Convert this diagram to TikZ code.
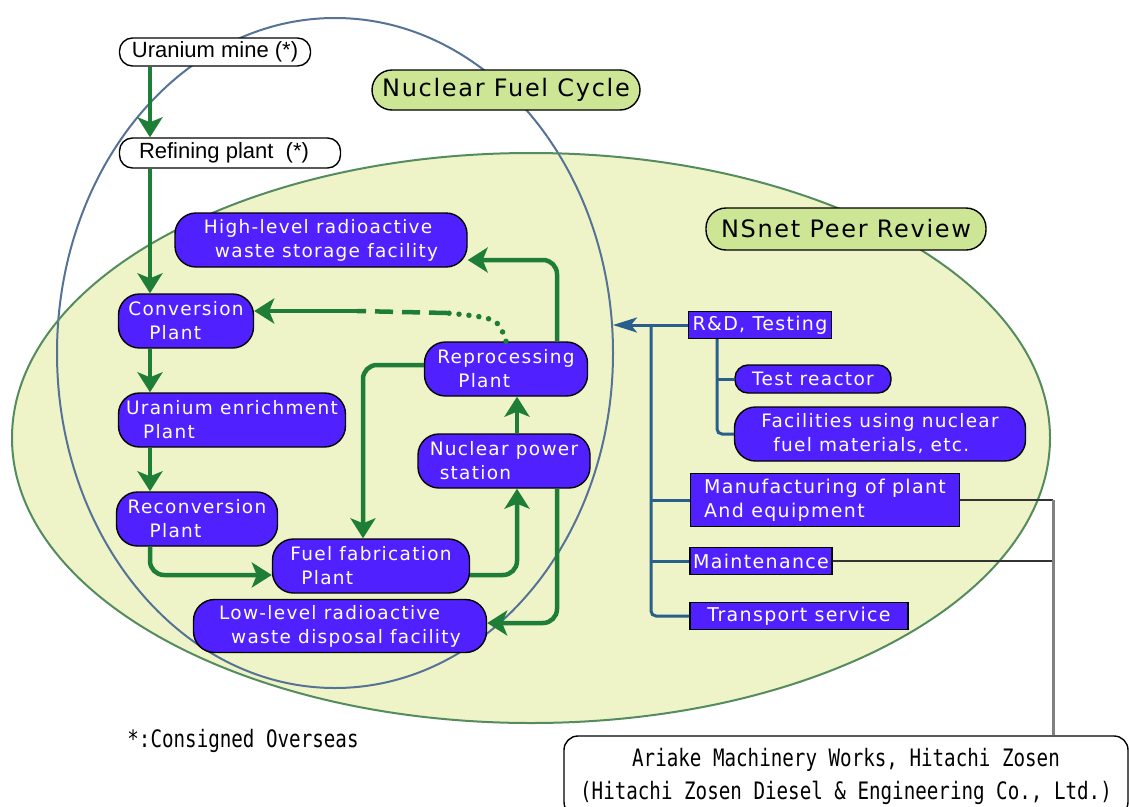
\documentclass[tikz,border=0pt]{standalone}
\usepackage{fontspec}
\setmainfont{DejaVu Sans}
\newfontfamily\plantfont{DejaVu Sans}[LetterSpace=7]
\newfontfamily\minefont{Liberation Sans}
\newfontfamily\notefont{DejaVu Sans Mono}[FakeStretch=0.8]
\usepackage{xcolor}
\usetikzlibrary{arrows.meta,positioning,calc}

\definecolor{plantblue}{RGB}{80,32,255}
\definecolor{flowgreen}{RGB}{30,125,55}
\definecolor{labelgreen}{RGB}{204,230,150}
\definecolor{peerfill}{RGB}{239,244,200}
\definecolor{peeredge}{RGB}{85,140,95}
\definecolor{cycleedge}{RGB}{85,115,150}
\definecolor{linkblue}{RGB}{40,95,140}

\begin{document}
\begin{tikzpicture}[x=1pt,y=-1pt,
    plant/.style={draw=black, line width=1.4pt, fill=plantblue, text=white, rounded corners=21pt,
        align=left, inner sep=0pt, font=\plantfont\fontsize{18.5}{24}\selectfont},
    service/.style={draw=black, line width=1.2pt, fill=plantblue, text=white, align=left,
        inner sep=0pt, font=\plantfont\fontsize{19}{24}\selectfont},
    source/.style={draw=black, line width=1.4pt, fill=white, rounded corners=13pt, inner sep=0pt,
        font=\minefont\fontsize{22}{26}\selectfont},
    title/.style={draw=black, line width=1.4pt, fill=labelgreen, rounded corners=20pt, inner sep=0pt,
        font=\plantfont\fontsize{24}{28}\selectfont},
    note/.style={font=\notefont\fontsize{24}{33}\selectfont, align=center, inner sep=0pt},
    flow/.style={draw=flowgreen, line width=4.5pt, rounded corners=14pt,
        -{Stealth[length=20pt,width=25pt,inset=5pt]}},
    dashflow/.style={draw=flowgreen, line width=4.5pt, dash pattern=on 18pt off 9pt},
    dotflow/.style={draw=flowgreen, line width=5.5pt, line cap=round, dash pattern=on 0pt off 10pt},
    link/.style={draw=linkblue, line width=3pt},
    feed/.style={draw=black!80, line width=1.5pt}
]
    \useasboundingbox (0,0) rectangle (1129,806);
    \fill[white] (0,0) rectangle (1129,806);

    % Areas
    \fill[peerfill] (531,438) ellipse [x radius=519, y radius=285];
    \draw[cycleedge, line width=2pt] (335,353) ellipse [x radius=278, y radius=335];
    \draw[peeredge, line width=2pt] (531,438) ellipse [x radius=519, y radius=285];

    % Titles
    \node[title, minimum width=268pt, minimum height=40pt] (nfc) at (506,90) {Nuclear Fuel Cycle};
    \node[title, minimum width=280pt, minimum height=42pt] (peer) at (846,229) {NSnet Peer Review};

    % Fuel cycle
    \node[source, minimum width=191pt, minimum height=28pt] (mine) at (215,52) {Uranium mine (*)};
    \node[source, minimum width=221pt, minimum height=30pt] (refine) at (230,153) {Refining plant \ (*)\hspace*{12pt}};
    \node[plant, minimum width=292pt, minimum height=54pt] (highlvl) at (321,240)
        {High-level radioactive\\\hspace*{11pt}waste storage facility};
    \node[plant, minimum width=135pt, minimum height=54pt] (conv) at (186,321)
        {Conversion\\\hspace*{21pt}Plant};
    \node[plant, minimum width=227pt, minimum height=54pt] (enrich) at (232,420)
        {Uranium enrichment\\\hspace*{17pt}Plant};
    \node[plant, minimum width=161pt, minimum height=54pt] (reconv) at (197,519)
        {Reconversion\\\hspace*{22pt}Plant};
    \node[plant, minimum width=197pt, minimum height=54pt] (fab) at (371,566)
        {Fuel fabrication\\\hspace*{11pt}Plant};
    \node[plant, minimum width=293pt, minimum height=53pt] (lowlvl) at (340,626)
        {Low-level radioactive\\\hspace*{12pt}waste disposal facility};
    \node[plant, minimum width=163pt, minimum height=54pt] (reproc) at (506,369)
        {Reprocessing\\\hspace*{21pt}Plant};
    \node[plant, minimum width=172pt, minimum height=54pt] (power) at (504,461)
        {Nuclear power\\\hspace*{10pt}station};

    % Peer review fields
    \node[service, minimum width=143pt, minimum height=27pt] (rnd) at (760,325) {R\&D, Testing};
    \node[plant, rounded corners=13pt, minimum width=156pt, minimum height=28pt] (testr) at (813,379) {Test reactor};
    \node[plant, minimum width=291pt, minimum height=54pt] (facil) at (880,434)
        {Facilities using nuclear\\\hspace*{12pt}fuel materials, etc.};
    \node[service, minimum width=269pt, minimum height=53pt] (manuf) at (825,500)
        {Manufacturing of plant\\And equipment\hspace*{80pt}};
    \node[service, minimum width=142pt, minimum height=27pt] (maint) at (761,561) {Maintenance};
    \node[service, minimum width=218pt, minimum height=27pt] (transp) at (799,616) {Transport service};

    % Notes
    \node[note] (consign) at (243,741) {*:Consigned Overseas};
    \node[note, draw=black, line width=1.4pt, fill=white, rounded corners=14pt,
        minimum width=564pt, minimum height=80pt] (ariake) at (846,776)
        {Ariake Machinery Works, Hitachi Zosen\\(Hitachi Zosen Diesel \& Engineering Co., Ltd.)};

    % Flow
    \coordinate (spine) at (150,0);
    \coordinate (backx) at (363,0);
    \coordinate (loopx) at (517,0);
    \coordinate (wastex) at (557,0);
    \draw[flow] (mine.south -| spine) -- (refine.north -| spine);
    \draw[flow] (refine.south -| spine) -- (conv.north -| spine);
    \draw[flow] (conv.south -| spine) -- (enrich.north -| spine);
    \draw[flow] (enrich.south -| spine) -- (reconv.north -| spine);
    \draw[flow] (reconv.south -| spine) |- ([yshift=-9pt]fab.west);
    \draw[flow] ([yshift=-9pt]fab.east) -| (power.south -| loopx);
    \draw[flow] (power.north -| loopx) -- (reproc.south -| loopx);
    \draw[flow] ([yshift=4pt]reproc.west) -| (fab.north -| backx);
    \draw[flow] (reproc.north -| wastex) |- ([yshift=-20pt]highlvl.east);
    \draw[flow] (power.south -| wastex) |- ([yshift=3pt]lowlvl.east);

    % Recycling
    \coordinate (dashend) at (357,311);
    \coordinate (dotend) at (447,313);
    \draw[flow] (dashend) -- ([yshift=10pt]conv.east);
    \draw[dashflow] (dotend) -- (dashend);
    \draw[dotflow] (reproc.north) .. controls (498,318) .. (dotend);

    % Links
    \coordinate (trunk) at (651,0);
    \coordinate (branch) at (717,0);
    \coordinate (cyclerim) at (613,325);
    \draw[link, -{Stealth[length=24pt,width=15pt,inset=6pt]}] (rnd.west) -- (cyclerim);
    \draw[link, rounded corners=5pt] (rnd.west -| trunk) |- (transp.west);
    \draw[link] (manuf.west -| trunk) -- (manuf.west);
    \draw[link] (maint.west -| trunk) -- (maint.west);
    \draw[link, rounded corners=5pt] (rnd.south -| branch) |- (facil.west);
    \draw[link] (testr.west -| branch) -- (testr.west);

    % Makers
    \coordinate (drop) at (1053,0);
    \draw[feed] (manuf.east) -- (manuf.east -| drop);
    \draw[feed] (maint.east) -- (maint.east -| drop);
    \draw[draw=black!50, line width=3pt] (manuf.east -| drop) -- (ariake.north -| drop);
\end{tikzpicture}
\end{document}
